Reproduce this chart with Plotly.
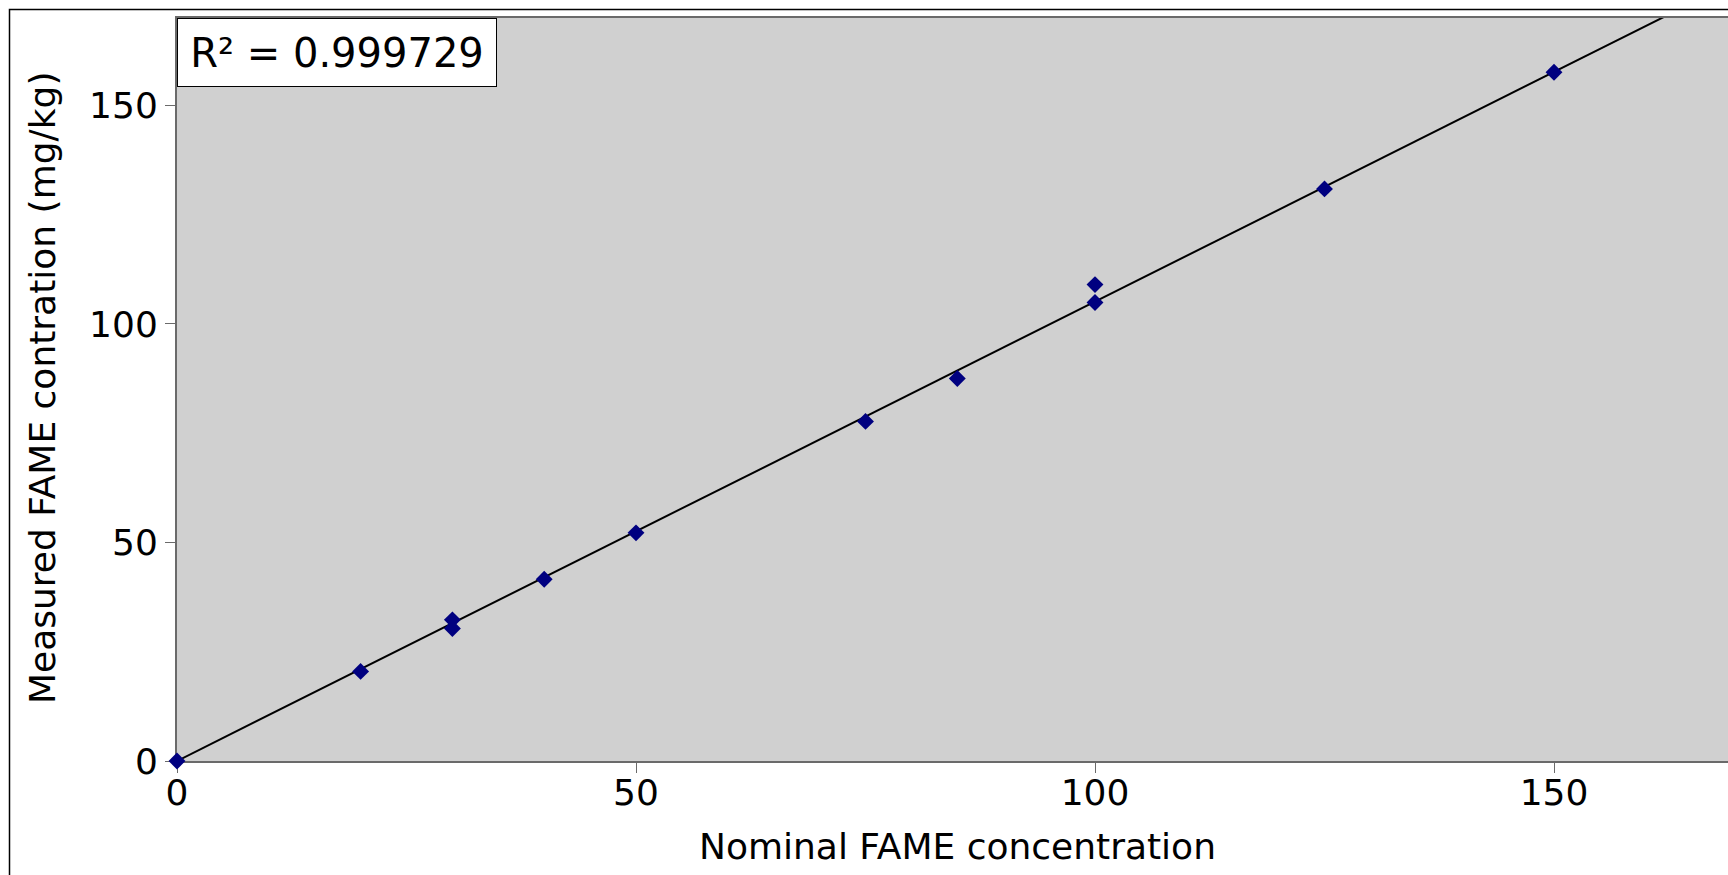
import numpy as np
import plotly.graph_objects as go

nominal = [0, 20, 30, 30, 40, 50, 75, 85, 100, 100, 125, 150]
measured = [0.0, 20.5, 32.3, 30.3, 41.6, 52.2, 77.7, 87.5, 109.0, 104.9, 130.9, 157.6]
tick_vals = [0, 50, 100, 150]
r2_label = "R\u00b2 = 0.999729"
x_title = "Nominal FAME concentration"
y_title = "Measured FAME contration (mg/kg)"

xa = np.array(nominal, dtype=float)
ya = np.array(measured, dtype=float)
slope = float((xa * ya).sum() / (xa * xa).sum())  # trendline through origin
fit_x = [0, 175]
fit_y = [slope * v for v in fit_x]

W, H = 1728, 875
L, R, T, B = 177, 0, 18, 114
pw, ph = W - L - R, H - T - B

def px_x(p):
    return (p - L) / pw

def px_y(p):
    return (H - B - p) / ph

FONT = "DejaVu Sans"

fig = go.Figure()
fig.add_trace(go.Scatter(x=fit_x, y=fit_y, mode="lines",
                         line=dict(color="black", width=2), showlegend=False,
                         hoverinfo="skip"))
fig.add_trace(go.Scatter(x=nominal, y=measured, mode="markers",
                         marker=dict(symbol="diamond", size=13, color="#000080",
                                     line=dict(width=0)),
                         cliponaxis=False, showlegend=False))

axis_common = dict(
    showgrid=False, zeroline=False, showline=True,
    linecolor="#6a6a6a", linewidth=2,
    ticks="outside", ticklen=10, tickwidth=1, tickcolor="#6a6a6a",
    tickvals=tick_vals, layer="below traces",
    tickfont=dict(family=FONT, size=36, color="black"),
)

fig.update_layout(
    width=W, height=H,
    margin=dict(l=L, r=R, t=T, b=B, pad=0),
    paper_bgcolor="white",
    plot_bgcolor="#d0d0d0",
    font=dict(family=FONT, color="black"),
    xaxis=dict(range=[0, pw / 9.18], ticklabelstandoff=-11, mirror=True, **axis_common),
    yaxis=dict(range=[0, 170], mirror=False, **axis_common),
    shapes=[dict(type="rect", xref="paper", yref="paper",
                 x0=px_x(9.5), x1=1.2, y0=px_y(900), y1=px_y(9.5),
                 line=dict(color="black", width=1.5), fillcolor="rgba(0,0,0,0)",
                 layer="below")],
    annotations=[
        dict(text=r2_label, xref="paper", yref="paper", x=0, y=1,
             xanchor="left", yanchor="top", showarrow=False,
             font=dict(family=FONT, size=40, color="black"),
             bgcolor="white", bordercolor="black", borderwidth=1, borderpad=0,
             width=318, height=67, align="center", valign="middle"),
        dict(text=x_title, xref="paper", yref="paper", x=px_x(957), y=px_y(846),
             xanchor="center", yanchor="middle", showarrow=False,
             font=dict(family=FONT, size=36, color="black")),
        dict(text=y_title, xref="paper", yref="paper", x=px_x(42), y=px_y(388),
             xanchor="center", yanchor="middle", showarrow=False, textangle=-90,
             font=dict(family=FONT, size=36, color="black")),
    ],
)

fig.write_html("out.html", config={"displayModeBar": False},
               post_script="document.body.style.margin='0';document.body.style.overflow='hidden';")
